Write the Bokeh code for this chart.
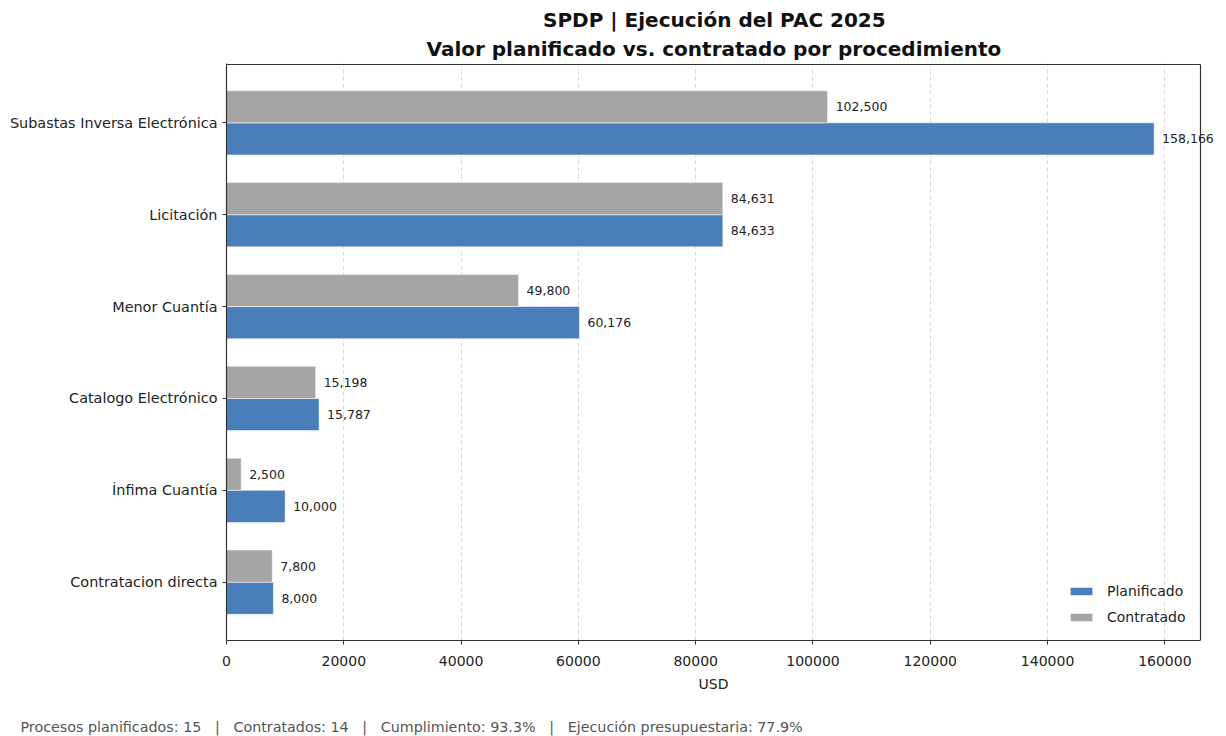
from bokeh.plotting import figure
from bokeh.models import (ColumnDataSource, FixedTicker, Legend, LegendItem,
                          Range1d, Title)
from bokeh.embed import file_html
from bokeh.resources import INLINE
from bokeh.core.properties import value

# ---- data ----
categories = ["Subastas Inversa Electrónica", "Licitación", "Menor Cuantía",
              "Catalogo Electrónico", "Ínfima Cuantía", "Contratacion directa"]
planificado = [158166, 84633, 60176, 15787, 10000, 8000]
contratado = [102500, 84631, 49800, 15198, 2500, 7800]
x_ticks = [0, 20000, 40000, 60000, 80000, 100000, 120000, 140000, 160000]
title_1 = "SPDP | Ejecución del PAC 2025"
title_2 = "Valor planificado vs. contratado por procedimiento"
x_label = "USD"
footnote_parts = ["Procesos planificados: 15", "Contratados: 14",
                  "Cumplimiento: 93.3%", "Ejecución presupuestaria: 77.9%"]

FONT = "DejaVu Sans"
BLUE = "#4a7ebb"
GRAY = "#a5a5a5"
TXT = "#222222"
EDGE = "#333333"
H = 0.35

sep = "\u00a0\u00a0\u00a0|\u00a0\u00a0\u00a0"
footnote = sep.join(footnote_parts)

n = len(categories)
ypos = [n - 1 - i for i in range(n)]
src = ColumnDataSource(dict(
    y_plan=[y - H / 2 for y in ypos],
    y_cont=[y + H / 2 for y in ypos],
    plan=planificado,
    cont=contratado,
    plan_lbl=[f"{v:,}" for v in planificado],
    cont_lbl=[f"{v:,}" for v in contratado],
))

# visible axes box (matplotlib-like), frame extended to the right so the
# longest value label can overflow the box
xmax = max(planificado) * 1.05
ybot, ytop = -0.635, n - 1 + 0.635
W, HGT = 1226, 736
left_b, top_b, bot_b = 226, 63, 96
frame_w = W - left_b
box_w = 974
box_cx = box_w / 2
frame_h = HGT - top_b - bot_b
px_per_unit = (frame_h - 1) / (ytop - ybot)

p = figure(width=W, height=HGT, output_backend="svg", toolbar_location=None,
           title=None,
           x_range=Range1d(0, xmax * frame_w / box_w),
           y_range=Range1d(ybot, ytop + 1 / px_per_unit),
           min_border_left=left_b, min_border_right=0,
           min_border_top=top_b, min_border_bottom=bot_b)
p.outline_line_color = None
p.background_fill_color = "white"
p.border_fill_color = "white"

r_plan = p.hbar(y="y_plan", right="plan", left=0, height=H, source=src,
                fill_color=BLUE, line_color="white", line_width=0.5)
r_cont = p.hbar(y="y_cont", right="cont", left=0, height=H, source=src,
                fill_color=GRAY, line_color="white", line_width=0.5)

p.text(x="plan", y="y_plan", text="plan_lbl", source=src, x_offset=8,
       text_font=value(FONT), text_font_size="12.5px", text_color=TXT,
       text_baseline="middle", text_align="left")
p.text(x="cont", y="y_cont", text="cont_lbl", source=src, x_offset=8,
       text_font=value(FONT), text_font_size="12.5px", text_color=TXT,
       text_baseline="middle", text_align="left")

# box top and right edges
p.segment(x0=[0, xmax], y0=[ytop, ybot], x1=[xmax, xmax], y1=[ytop, ytop],
          line_color=EDGE, line_width=1.2)

# axes
p.xaxis.ticker = FixedTicker(ticks=x_ticks)
p.xaxis.major_label_overrides = {t: str(t) for t in x_ticks}
p.xaxis.bounds = (0, xmax)
p.yaxis.ticker = FixedTicker(ticks=ypos)
p.yaxis.major_label_overrides = {y: c for y, c in zip(ypos, categories)}
p.yaxis.major_label_text_font_size = "14.4px"
p.xaxis.major_label_text_font_size = "14px"
for ax in (p.xaxis[0], p.yaxis[0]):
    ax.axis_line_color = EDGE
    ax.axis_line_width = 1.2
    ax.major_tick_line_color = EDGE
    ax.major_tick_out = 4
    ax.major_tick_in = 0
    ax.minor_tick_out = 0
    ax.minor_tick_in = 0
    ax.major_label_text_font = FONT
    ax.major_label_text_color = TXT
    ax.major_label_standoff = 5
p.xaxis.major_label_standoff = 11

p.xgrid.ticker = FixedTicker(ticks=x_ticks)
p.xgrid.bounds = (ybot, ytop)
p.xgrid.grid_line_color = "#d9d9d9"
p.xgrid.grid_line_dash = "4 3"
p.xgrid.grid_line_width = 1
p.ygrid.grid_line_color = None

legend = Legend(items=[LegendItem(label="Planificado", renderers=[r_plan]),
                       LegendItem(label="Contratado", renderers=[r_cont])],
                location=(841, 13), margin=0, padding=0, spacing=6,
                glyph_width=28, glyph_height=10, label_standoff=12,
                label_height=20, label_text_font=FONT, label_text_font_size="14px",
                label_text_color=TXT, border_line_color=None,
                background_fill_alpha=0)
p.add_layout(legend, "center")

# titles (added closest-first); left-aligned, offset to centre over the box
for txt, so, tw in ((title_2, 6, 574), (title_1, 0, 341)):
    p.add_layout(Title(text=txt, text_font=FONT, text_font_size="20px",
                       text_font_style="bold", text_color="#111111",
                       align="left", offset=box_cx - tw / 2,
                       standoff=so), "above")

# x axis label and footnote as titles below
p.add_layout(Title(text=x_label, text_font=FONT, text_font_size="14px",
                   text_font_style="normal", text_color=TXT,
                   align="left", vertical_align="top", offset=box_cx - 15,
                   standoff=14), "below")
p.add_layout(Title(text="\u00a0\n" + footnote, text_font=FONT,
                   text_font_size="14.3px", text_font_style="normal",
                   text_color="#555555", align="left", offset=20 - left_b,
                   standoff=0), "below")

open("out.html", "w").write(file_html(p, INLINE))
